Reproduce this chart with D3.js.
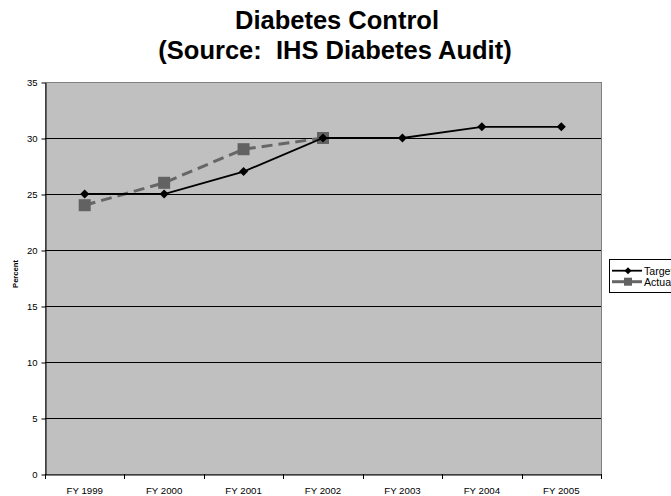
<!DOCTYPE html>
<html>
<head>
<meta charset="utf-8">
<script src="https://cdn.jsdelivr.net/npm/d3@7"></script>
<style>
  html, body { margin: 0; padding: 0; background: #fff; overflow: hidden; }
  svg { display: block; font-family: Arial, "Liberation Sans", sans-serif; }
  text { white-space: pre; }
</style>
</head>
<body>
<svg id="chart" width="671" height="496"></svg>
<script>
// Diabetes control: fiscal-year target vs. actual percentages
const categories = ["FY 1999", "FY 2000", "FY 2001", "FY 2002", "FY 2003", "FY 2004", "FY 2005"];
const targetValues = [25, 25, 27, 30, 30, 31, 31];
const actualValues = [24, 26, 29, 30];
const yTicks = [0, 5, 10, 15, 20, 25, 30, 35];
const seriesNames = ["Target", "Actual"];

const FONT = "Arial, 'Liberation Sans', sans-serif";
const svg = d3.select("#chart");
const plot = { left: 45, right: 601, top: 82, bottom: 474 };

const x = d3.scaleBand().domain(categories).range([plot.left, plot.right]);
const y = d3.scaleLinear().domain([0, 35]).range([plot.bottom, plot.top]);

// Two-line title
svg.append("text").attr("x", 337).attr("y", 29).attr("text-anchor", "middle")
  .attr("font-size", 25.5).attr("font-weight", "bold").text("Diabetes Control");
svg.append("text").attr("x", 335).attr("y", 59).attr("text-anchor", "middle")
  .attr("font-size", 25.5).attr("font-weight", "bold").text("(Source:  IHS Diabetes Audit)");

// Plot background
svg.append("rect").attr("x", plot.left + 0.5).attr("y", plot.top + 0.5)
  .attr("width", plot.right - plot.left).attr("height", plot.bottom - plot.top)
  .attr("fill", "#c0c0c0").attr("stroke", "#808080").attr("stroke-width", 1);

// Horizontal gridlines
svg.append("g").selectAll("line").data(yTicks.filter(d => d > 0 && d < 35)).join("line")
  .attr("x1", plot.left).attr("x2", plot.right)
  .attr("y1", d => Math.round(y(d)) + 0.5).attr("y2", d => Math.round(y(d)) + 0.5)
  .attr("stroke", "#000").attr("stroke-width", 1);

// Y axis
const yAxis = svg.append("g").attr("transform", `translate(${plot.left + 0.5},0.5)`)
  .call(d3.axisLeft(y).tickValues(yTicks).tickSize(4).tickPadding(4).tickSizeOuter(0));
yAxis.select(".domain").attr("stroke", "#000");
yAxis.selectAll("text").attr("font-size", 9.5).attr("font-family", FONT).attr("fill", "#000");

// X axis, tick marks sit between categories
const xAxis = svg.append("g").attr("transform", `translate(0,${plot.bottom + 0.5})`)
  .call(d3.axisBottom(x).tickSize(0).tickPadding(13).tickSizeOuter(0));
xAxis.select(".domain").attr("stroke", "#000");
xAxis.selectAll("text").attr("font-size", 9.7).attr("font-family", FONT).attr("fill", "#000");
const bounds = categories.map(c => x(c)).concat([x(categories[categories.length - 1]) + x.bandwidth()]);
svg.append("g").selectAll("line").data(bounds).join("line")
  .attr("x1", d => Math.round(d) + 0.5).attr("x2", d => Math.round(d) + 0.5)
  .attr("y1", plot.bottom).attr("y2", plot.bottom + 5)
  .attr("stroke", "#000");

// Y axis title
svg.append("text").attr("transform", "translate(18.3,274) rotate(-90)")
  .attr("text-anchor", "middle").attr("font-size", 7.6).attr("font-weight", "bold").text("Percent");

const cx = c => x(c) + x.bandwidth() / 2;
const line = d3.line().x(d => cx(d.c)).y(d => y(d.v));

const targetData = targetValues.map((v, i) => ({ c: categories[i], v }));
const actualData = actualValues.map((v, i) => ({ c: categories[i], v }));

// Actual series: dashed grey with squares
svg.append("path").datum(actualData).attr("d", line)
  .attr("fill", "none").attr("stroke", "#666666").attr("stroke-width", 3)
  .attr("stroke-dasharray", "11,6");
svg.append("g").selectAll("rect").data(actualData).join("rect")
  .attr("x", d => cx(d.c) - 6).attr("y", d => y(d.v) - 6)
  .attr("width", 12).attr("height", 12).attr("fill", "#626262");

// Target series: solid black with diamonds
svg.append("path").datum(targetData).attr("d", line)
  .attr("fill", "none").attr("stroke", "#000").attr("stroke-width", 1.8);
const diamond = d3.symbol().type(d3.symbolDiamond2).size(52);
svg.append("g").selectAll("path").data(targetData).join("path")
  .attr("transform", d => `translate(${cx(d.c)},${y(d.v)})`)
  .attr("d", diamond).attr("fill", "#000");

// Legend (runs past the right edge of the page)
const lg = svg.append("g");
lg.append("rect").attr("x", 609.5).attr("y", 259.5).attr("width", 80).attr("height", 33)
  .attr("fill", "#fff").attr("stroke", "#000");
const rows = [270.7, 281.7];
lg.append("line").attr("x1", 612).attr("x2", 642).attr("y1", rows[0]).attr("y2", rows[0])
  .attr("stroke", "#000").attr("stroke-width", 1.8);
lg.append("path").attr("transform", `translate(628,${rows[0]})`)
  .attr("d", d3.symbol().type(d3.symbolDiamond2).size(32)).attr("fill", "#000");
lg.append("line").attr("x1", 612).attr("x2", 642).attr("y1", rows[1]).attr("y2", rows[1])
  .attr("stroke", "#666666").attr("stroke-width", 3);
lg.append("rect").attr("x", 624).attr("y", rows[1] - 4).attr("width", 8).attr("height", 8).attr("fill", "#626262");
lg.selectAll("text").data(seriesNames).join("text")
  .attr("x", 644).attr("y", (d, i) => rows[i] + 3.8)
  .attr("font-size", 10.6).text(d => d);
</script>
</body>
</html>
